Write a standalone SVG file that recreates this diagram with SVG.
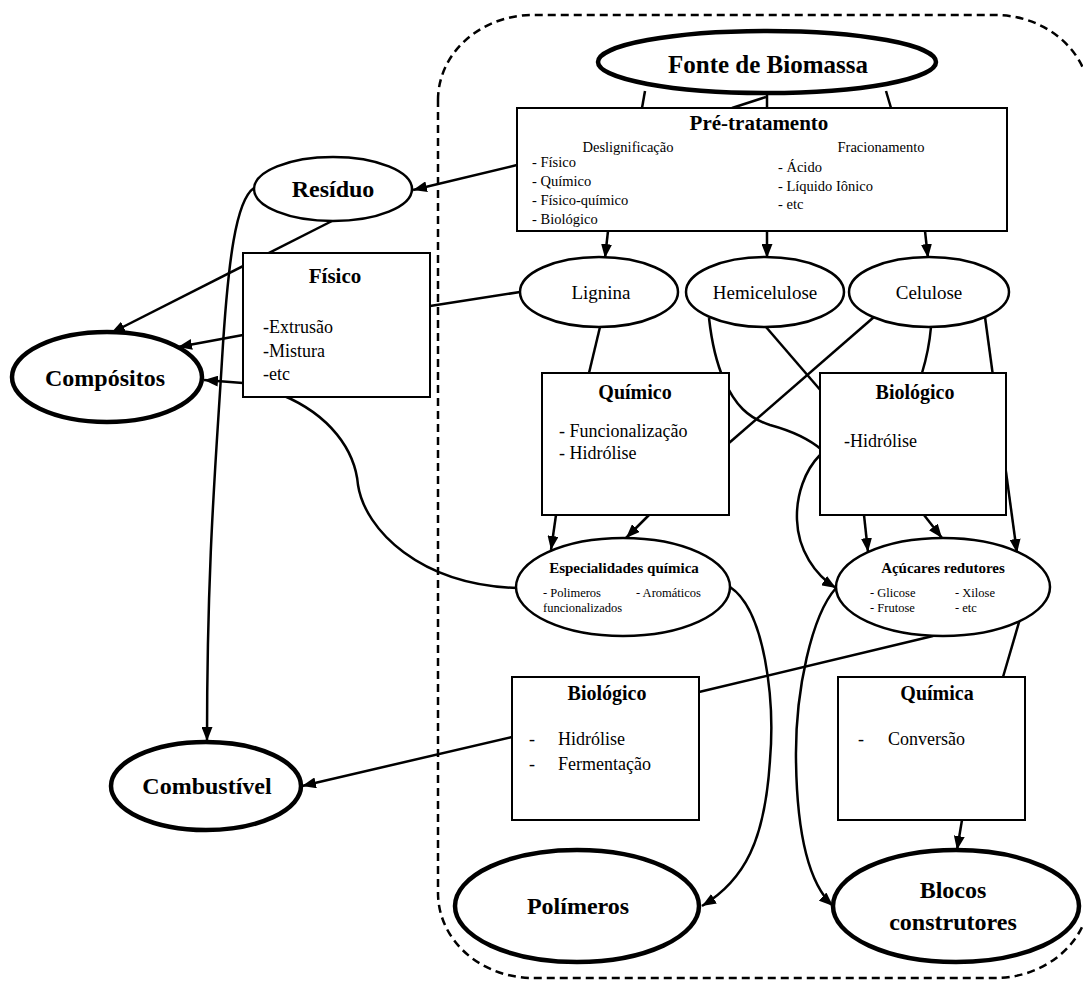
<svg xmlns="http://www.w3.org/2000/svg" width="1083" height="981" viewBox="0 0 1083 981">
  <defs>
    <marker id="arrow" markerUnits="userSpaceOnUse" markerWidth="14" markerHeight="11" refX="14" refY="5.5" orient="auto">
      <path d="M0,0 L14,5.5 L0,11 z" fill="#000"/>
    </marker>
    <style>
      text { font-family: "Liberation Serif", "Times New Roman", serif; fill: #000; }
      .c { text-anchor: middle; }
      .b { font-weight: bold; }
      .big { font-size: 24px; font-weight: bold; text-anchor: middle; }
      .ttl { font-size: 20px; font-weight: bold; text-anchor: middle; }
      .item { font-size: 18px; }
      .pre { font-size: 14.5px; }
      .frac { font-size: 19px; text-anchor: middle; }
      .st { font-size: 15px; font-weight: bold; text-anchor: middle; }
      .sm { font-size: 12.5px; }
      .box { fill: #fff; stroke: #000; stroke-width: 2; }
      .ell { fill: #fff; stroke: #000; stroke-width: 2.5; }
      .ellk { fill: #fff; stroke: #000; stroke-width: 4.5; }
      .ln { fill: none; stroke: #000; stroke-width: 2.5; }
      .ar { fill: none; stroke: #000; stroke-width: 2.5; marker-end: url(#arrow); }
      .zone { fill: none; stroke: #000; stroke-width: 2.5; stroke-dasharray: 8 5; }
    </style>
  </defs>

  <rect x="0" y="0" width="1083" height="981" fill="#fff"/>

  <!-- biorefinery boundary -->
  <path class="zone" d="M438,100 A95,85 0 0 1 533,15 L995,15 A95,85 0 0 1 1090,100 L1090,893 A95,85 0 0 1 995,978 L533,978 A95,85 0 0 1 438,893 Z"/>

  <g id="connectors">
    <!-- source to pretreatment -->
    <line class="ln" x1="645" y1="91" x2="642" y2="108"/>
    <line class="ln" x1="767" y1="93" x2="767" y2="108"/>
    <line class="ln" x1="766" y1="97" x2="732" y2="108"/>
    <line class="ln" x1="886" y1="91" x2="891" y2="108"/>
    <!-- pretreatment outputs -->
    <line class="ar" x1="517" y1="165" x2="413" y2="190"/>
    <line class="ar" x1="608" y1="231" x2="605" y2="258"/>
    <line class="ar" x1="767" y1="231" x2="767" y2="258"/>
    <line class="ar" x1="925" y1="231" x2="928" y2="258"/>
    <!-- residue routes -->
    <line class="ar" x1="332" y1="221" x2="111" y2="333"/>
    <path class="ar" d="M254,188 C236,200 228,260 222,360 C216,460 207,560 207,741"/>
    <!-- physical processing -->
    <line class="ar" x1="243" y1="335" x2="178" y2="347"/>
    <line class="ar" x1="243" y1="383" x2="204" y2="380"/>
    <line class="ln" x1="430" y1="306" x2="520" y2="292"/>
    <path class="ln" d="M282,395 C330,415 355,450 358,485 C365,530 420,585 517,588"/>
    <!-- fractions to conversion routes -->
    <line class="ln" x1="600" y1="327" x2="589" y2="373"/>
    <path class="ln" d="M709,318 C712,345 716,362 724,380 C735,405 748,418 770,425 C792,431 808,438 822,450"/>
    <line class="ln" x1="766" y1="327" x2="822" y2="392"/>
    <line class="ln" x1="874" y1="317" x2="729" y2="443"/>
    <path class="ln" d="M931,327 Q929,350 922,373"/>
    <line class="ar" x1="985" y1="317" x2="1017" y2="553"/>
    <!-- chemical route outputs -->
    <line class="ar" x1="556" y1="515" x2="551" y2="550"/>
    <line class="ar" x1="649" y1="515" x2="626" y2="538"/>
    <!-- biological route outputs -->
    <line class="ar" x1="864" y1="515" x2="868" y2="552"/>
    <line class="ar" x1="924" y1="515" x2="942" y2="538"/>
    <path class="ar" d="M820,455 C805,470 796,495 797,520 C798,550 815,575 836,588"/>
    <!-- products -->
    <path class="ar" d="M730,587 C765,610 775,700 770,760 C765,840 745,880 702,906"/>
    <path class="ar" d="M836,588 C812,615 795,690 796,760 C797,840 810,885 833,906"/>
    <line class="ln" x1="933" y1="636" x2="699" y2="692"/>
    <line class="ln" x1="1022" y1="612" x2="1003" y2="677"/>
    <line class="ar" x1="962" y1="820" x2="957" y2="850"/>
    <line class="ar" x1="512" y1="737" x2="302" y2="786"/>
  </g>

  <g id="fonte">
    <ellipse class="ellk" cx="767" cy="62" rx="169" ry="31"/>
    <text class="big" x="768" y="73" style="font-size:25px">Fonte de Biomassa</text>
  </g>

  <g id="pretratamento">
    <rect class="box" x="517" y="108" width="490" height="123"/>
    <text class="b c" x="759" y="130" style="font-size:21px">Pré-tratamento</text>
    <text class="pre c" x="628" y="152">Deslignificação</text>
    <text class="pre c" x="881" y="152">Fracionamento</text>
    <text class="pre" x="532" y="167">- Físico</text>
    <text class="pre" x="532" y="186">- Químico</text>
    <text class="pre" x="532" y="205">- Físico-químico</text>
    <text class="pre" x="532" y="224">- Biológico</text>
    <text class="pre" x="778" y="172">- Ácido</text>
    <text class="pre" x="778" y="191">- Líquido Iônico</text>
    <text class="pre" x="778" y="209">- etc</text>
  </g>

  <g id="residuo">
    <ellipse class="ell" cx="333" cy="189" rx="79" ry="32"/>
    <text class="big" x="333" y="197">Resíduo</text>
  </g>

  <g id="fisico">
    <rect class="box" x="243" y="253" width="187" height="144"/>
    <text class="ttl" x="335" y="283" style="font-size:21px">Físico</text>
    <text class="item" x="263" y="333">-Extrusão</text>
    <text class="item" x="263" y="357">-Mistura</text>
    <text class="item" x="263" y="380">-etc</text>
  </g>

  <g id="compositos">
    <ellipse class="ellk" cx="107" cy="377" rx="95" ry="45"/>
    <text class="big" x="105" y="386">Compósitos</text>
  </g>

  <g id="lignina">
    <ellipse class="ell" cx="599" cy="292" rx="79" ry="35"/>
    <text class="frac" x="601" y="299">Lignina</text>
  </g>

  <g id="hemicelulose">
    <ellipse class="ell" cx="765" cy="292" rx="79" ry="35"/>
    <text class="frac" x="765" y="299">Hemicelulose</text>
  </g>

  <g id="celulose">
    <ellipse class="ell" cx="929" cy="292" rx="80" ry="35"/>
    <text class="frac" x="929" y="299">Celulose</text>
  </g>

  <g id="quimico">
    <rect class="box" x="542" y="373" width="187" height="142"/>
    <text class="ttl" x="635" y="399">Químico</text>
    <text class="item" x="559" y="437">- Funcionalização</text>
    <text class="item" x="559" y="459">- Hidrólise</text>
  </g>

  <g id="biologico-1">
    <rect class="box" x="820" y="373" width="186" height="142"/>
    <text class="ttl" x="915" y="399">Biológico</text>
    <text class="item" x="844" y="447">-Hidrólise</text>
  </g>

  <g id="especialidades">
    <ellipse class="ell" cx="623" cy="587" rx="107" ry="49"/>
    <text class="st" x="624" y="573">Especialidades química</text>
    <text class="sm" x="543" y="597">- Polimeros</text>
    <text class="sm" x="636" y="597">- Aromáticos</text>
    <text class="sm" x="543" y="612">funcionalizados</text>
  </g>

  <g id="acucares">
    <ellipse class="ell" cx="943" cy="587" rx="107" ry="49"/>
    <text class="st" x="943" y="573">Açúcares redutores</text>
    <text class="sm" x="870" y="597">- Glicose</text>
    <text class="sm" x="955" y="597">- Xilose</text>
    <text class="sm" x="870" y="612">- Frutose</text>
    <text class="sm" x="955" y="612">- etc</text>
  </g>

  <g id="biologico-2">
    <rect class="box" x="512" y="677" width="187" height="143"/>
    <text class="ttl" x="607" y="700">Biológico</text>
    <text class="item" x="529" y="745">-</text>
    <text class="item" x="558" y="745">Hidrólise</text>
    <text class="item" x="529" y="770">-</text>
    <text class="item" x="558" y="770">Fermentação</text>
  </g>

  <g id="quimica">
    <rect class="box" x="838" y="677" width="187" height="143"/>
    <text class="ttl" x="937" y="700">Química</text>
    <text class="item" x="858" y="745">-</text>
    <text class="item" x="888" y="745">Conversão</text>
  </g>

  <g id="combustivel">
    <ellipse class="ellk" cx="206" cy="786" rx="95" ry="44"/>
    <text class="big" x="207" y="794">Combustível</text>
  </g>

  <g id="polimeros">
    <ellipse class="ellk" cx="577" cy="906" rx="122" ry="56"/>
    <text class="big" x="578" y="914">Polímeros</text>
  </g>

  <g id="blocos">
    <ellipse class="ellk" cx="956" cy="906" rx="123" ry="56"/>
    <text class="big" x="953" y="898">Blocos</text>
    <text class="big" x="953" y="930">construtores</text>
  </g>
</svg>
